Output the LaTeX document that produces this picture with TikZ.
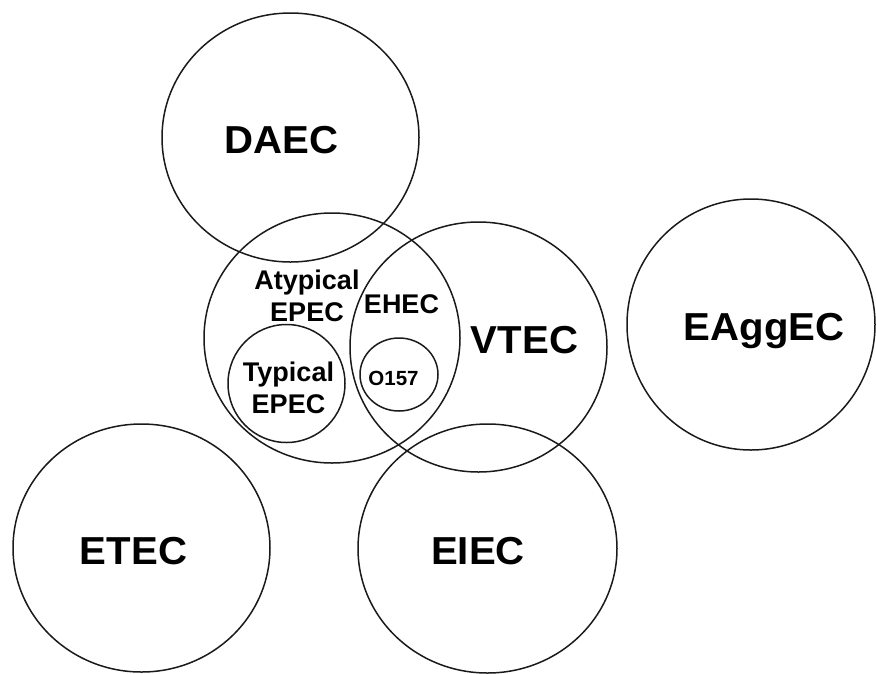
\documentclass[tikz,border=0pt]{standalone}
\usepackage{fontspec}
\setsansfont{Liberation Sans}

\begin{document}
\begin{tikzpicture}[x=1pt,y=-1pt,font=\sffamily\bfseries]
  \definecolor{rim}{HTML}{1A1A1A}
  \path[use as bounding box] (0,0) rectangle (876,673);

  % One ring per pathotype; the image is a touch wider than tall, hence the ellipses.
  \tikzset{ring/.style={draw=rim,line width=1.5pt},
           big/.style={font=\sffamily\bfseries\fontsize{39}{46}\selectfont,anchor=base,inner sep=0pt,xscale=1.03},
           mid/.style={font=\sffamily\bfseries\fontsize{27}{31.5}\selectfont,align=center,inner sep=0pt},
           tiny/.style={font=\sffamily\bfseries\fontsize{20.5}{24}\selectfont,anchor=base,inner sep=0pt}}
  \draw[ring] (290.5,137.5) ellipse [x radius=128.5,y radius=124.5];
  \draw[ring] (332,338) ellipse [x radius=128,y radius=125];
  \draw[ring] (478.5,347) ellipse [x radius=128.5,y radius=125];
  \draw[ring] (286.5,383.5) ellipse [x radius=58.5,y radius=59];
  \draw[ring] (399,374.5) ellipse [x radius=39,y radius=36.5];
  \draw[ring] (751,324.5) ellipse [x radius=124,y radius=125.5];
  \draw[ring] (141.5,548) ellipse [x radius=128.5,y radius=124];
  \draw[ring] (487.5,548.5) ellipse [x radius=129.5,y radius=124.5];

  \node[big] (daec) at (281.5,153) {DAEC};
  \node[big] (vtec) at (524.5,353) {VTEC};
  \node[big] (eaggec) at (764,340) {EAggEC};
  \node[big] (etec) at (133.5,564) {ETEC};
  \node[big] (eiec) at (478,564) {EIEC};
  \node[mid,anchor=north] (atypical) at (307,270) {Atypical\\EPEC};
  \node[mid,anchor=north] (typical) at (288.5,362) {Typical\\EPEC};
  \node[mid,anchor=base] (ehec) at (401.5,313) {EHEC};
  \node[tiny] (o157) at (393.5,385) {O157};
\end{tikzpicture}
\end{document}
